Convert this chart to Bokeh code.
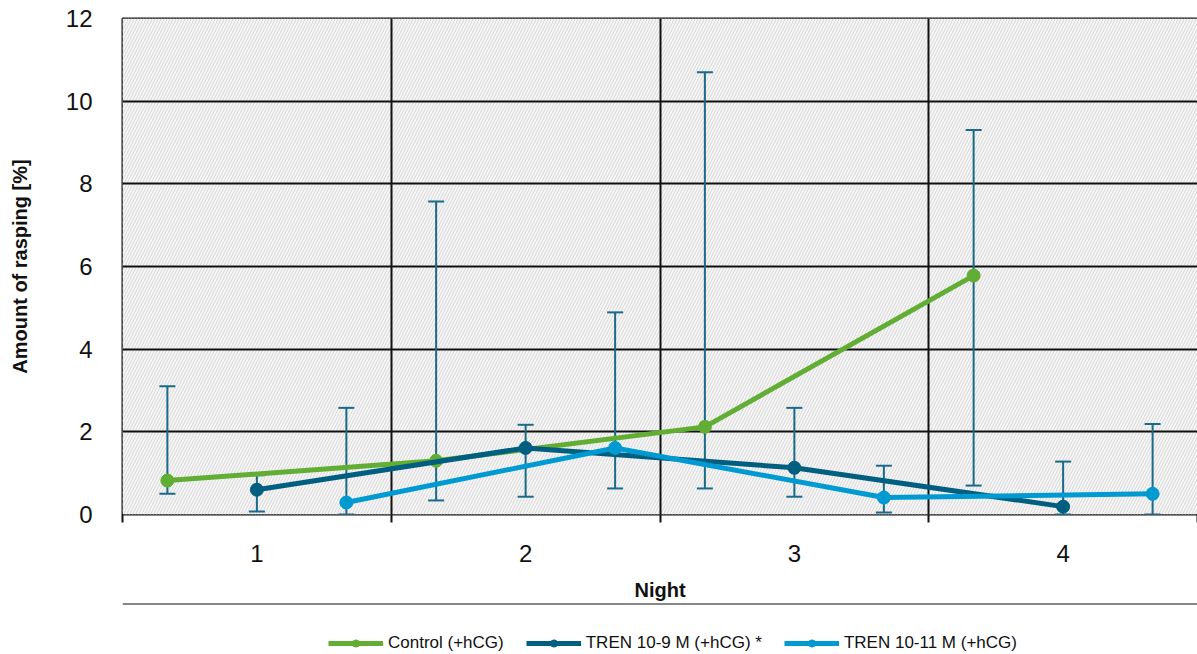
from bokeh.plotting import figure
from bokeh.layouts import column
from bokeh.models import (Range1d, FixedTicker, Whisker, TeeHead, ColumnDataSource,
                          Legend, LegendItem, BoxAnnotation, Span)
from bokeh.embed import file_html
from bokeh.resources import INLINE

nights = [1, 2, 3, 4]
night_labels = ["1", "2", "3", "4"]
series_names = ["Control (+hCG)", "TREN 10-9 M (+hCG) *", "TREN 10-11 M (+hCG)"]
series_colors = ["#62ae34", "#005f80", "#009ad2"]
series_offsets = [-0.333, 0.0, 0.333]

control_mean = [0.82, 1.30, 2.12, 5.78]
control_low = [0.50, 0.34, 0.63, 0.70]
control_high = [3.10, 7.57, 10.70, 9.30]

tren9_mean = [0.60, 1.61, 1.13, 0.19]
tren9_low = [0.07, 0.43, 0.43, 0.00]
tren9_high = [0.95, 2.17, 2.58, 1.28]

tren11_mean = [0.29, 1.61, 0.41, 0.50]
tren11_low = [0.00, 0.63, 0.05, 0.00]
tren11_high = [2.58, 4.89, 1.18, 2.19]

y_ticks = [0, 2, 4, 6, 8, 10, 12]

means = [control_mean, tren9_mean, tren11_mean]
lows = [control_low, tren9_low, tren11_low]
highs = [control_high, tren9_high, tren11_high]

FONT = "Liberation Sans"
err_color = "#1a6a8a"

p = figure(frame_width=1075, frame_height=496, output_backend="svg", toolbar_location=None,
           x_range=Range1d(0.5, 4.5), y_range=Range1d(0, 12),
           min_border_left=122, min_border_top=18, min_border_right=0, min_border_bottom=0)
p.outline_line_color = "#111111"
p.outline_line_width = 2
p.background_fill_color = "white"

bg = BoxAnnotation(fill_color="#f5f5f5", fill_alpha=1.0, line_color=None,
                   hatch_pattern="/", hatch_color="#dadada", hatch_scale=6, hatch_weight=1,
                   level="image")
p.add_layout(bg)

# grid
p.xgrid.ticker = FixedTicker(ticks=[1.5, 2.5, 3.5])
p.xgrid.grid_line_color = "#111111"
p.xgrid.grid_line_width = 2
p.ygrid.ticker = FixedTicker(ticks=y_ticks)
p.ygrid.grid_line_color = "#111111"
p.ygrid.grid_line_width = 2

# x axis
xa = p.xaxis[0]
xa.ticker = FixedTicker(ticks=nights, minor_ticks=[0.5, 1.5, 2.5, 3.5, 4.5])
xa.major_label_overrides = {n: l for n, l in zip(nights, night_labels)}
xa.major_tick_line_color = None
xa.major_tick_out = 0
xa.major_tick_in = 0
xa.minor_tick_line_color = "#111111"
xa.minor_tick_line_width = 2
xa.minor_tick_out = 8
xa.minor_tick_in = 0
xa.axis_line_color = None
xa.major_label_text_font = FONT
xa.major_label_text_font_size = "24px"
xa.major_label_text_color = "#111111"
xa.major_label_standoff = 22
xa.axis_label = "Night"
xa.axis_label_text_font = FONT
xa.axis_label_text_font_style = "bold"
xa.axis_label_text_font_size = "20px"
xa.axis_label_text_color = "#111111"
xa.axis_label_standoff = 14

# y axis
ya = p.yaxis[0]
ya.ticker = FixedTicker(ticks=y_ticks)
ya.major_tick_line_color = None
ya.minor_tick_line_color = None
ya.axis_line_color = None
ya.major_label_text_font = FONT
ya.major_label_text_font_size = "24px"
ya.major_label_text_color = "#111111"
ya.major_label_standoff = 24
ya.axis_label = "Amount of rasping [%]"
ya.axis_label_text_font = FONT
ya.axis_label_text_font_style = "bold"
ya.axis_label_text_font_size = "20px"
ya.axis_label_text_color = "#111111"
ya.axis_label_standoff = 32

# legend strip below (its x range lies outside the data, so only legend glyphs show)
p2 = figure(width=1197, height=50, output_backend="svg", toolbar_location=None,
            x_range=Range1d(-2, -1), y_range=Range1d(0, 1),
            min_border_left=78, min_border_right=0, min_border_top=0, min_border_bottom=0)
p2.axis.visible = False
p2.grid.visible = False
p2.outline_line_color = None
p2.add_layout(Span(location=1, dimension="width", line_color="#111111", line_width=2))

items = []
for name, color, off, m, lo, hi in zip(series_names, series_colors, series_offsets, means, lows, highs):
    xs = [n + off for n in nights]
    src = ColumnDataSource(dict(x=xs, y=m, lower=lo, upper=hi))
    w = Whisker(base="x", lower="lower", upper="upper", source=src,
                line_color=err_color, line_width=2,
                upper_head=TeeHead(size=16, line_color=err_color, line_width=2),
                lower_head=TeeHead(size=16, line_color=err_color, line_width=2))
    p.add_layout(w)
    p.line("x", "y", source=src, line_color=color, line_width=5)
    p.scatter("x", "y", source=src, marker="circle", size=13, fill_color=color, line_color=color)
    l1 = p2.line("x", "y", source=src, line_color=color, line_width=5)
    l2 = p2.scatter("x", "y", source=src, marker="circle", size=13, fill_color=color, line_color=color)
    items.append(LegendItem(label=name, renderers=[l1, l2]))

legend = Legend(items=items, orientation="horizontal", location=(206, 0),
                label_text_font=FONT,
                label_text_font_size="17px", label_text_color="#111111",
                glyph_width=55, glyph_height=18, spacing=22, label_standoff=5,
                padding=2, margin=0, border_line_color=None, background_fill_alpha=0)
p2.add_layout(legend, "center")

layout = column(p, p2, spacing=0)
open("out.html", "w").write(file_html(layout, INLINE))
